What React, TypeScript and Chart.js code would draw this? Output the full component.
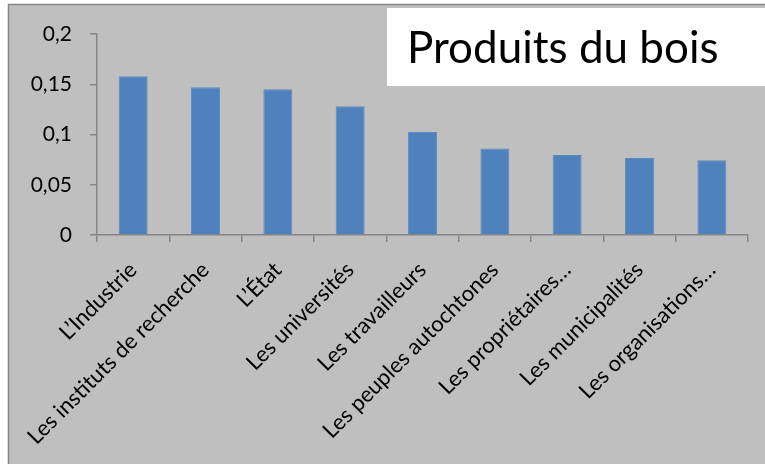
import { useEffect, useRef } from "react";
import { Chart, registerables } from "chart.js";

Chart.register(...registerables);

const categories = [
  "L’Industrie",
  "Les instituts de recherche",
  "L’État",
  "Les universités",
  "Les travailleurs",
  "Les peuples autochtones",
  "Les propriétaires…",
  "Les municipalités",
  "Les organisations…",
];
const values = [0.158, 0.147, 0.145, 0.128, 0.1025, 0.086, 0.0795, 0.0765, 0.0745];
const yTicks = [0, 0.05, 0.1, 0.15, 0.2];
const titleText = "Produits du bois";

const W = 765;
const H = 464;

const bgPlugin = {
  id: "bg",
  beforeDraw(chart: any) {
    const ctx = chart.ctx;
    ctx.save();
    ctx.fillStyle = "#ffffff";
    ctx.fillRect(0, 0, W, H);
    ctx.fillStyle = "#bfbfbf";
    ctx.fillRect(8, 4, W - 8, H - 4);
    ctx.strokeStyle = "#868686";
    ctx.lineWidth = 1.5;
    ctx.beginPath();
    ctx.moveTo(8.5, H);
    ctx.lineTo(8.5, 4.5);
    ctx.lineTo(W, 4.5);
    ctx.stroke();
    ctx.restore();
  },
  afterDraw(chart: any) {
    const ctx = chart.ctx;
    ctx.save();
    ctx.fillStyle = "#ffffff";
    ctx.fillRect(387, 8, W - 387, 78);
    ctx.fillStyle = "#000000";
    ctx.font = "44px Lato";
    ctx.textBaseline = "alphabetic";
    ctx.textAlign = "left";
    ctx.fillText(titleText, 407, 63);
    ctx.restore();
  },
};

export default function App() {
  const ref = useRef<HTMLCanvasElement>(null);
  useEffect(() => {
    if (!ref.current) return;
    const chart = new Chart(ref.current, {
      type: "bar",
      data: {
        labels: categories,
        datasets: [
          {
            data: values,
            backgroundColor: "#4f81bd",
            borderColor: "#5a8ac4",
            borderWidth: 1,
            barPercentage: 0.4,
            categoryPercentage: 1,
          },
        ],
      },
      options: {
        responsive: false,
        animation: false,
        layout: { padding: { left: 8, top: 34, right: 17, bottom: 0 } },
        plugins: { legend: { display: false }, tooltip: { enabled: false } },
        scales: {
          y: {
            min: 0,
            max: 0.2,
            afterBuildTicks: (scale: any) => {
              scale.ticks = yTicks.map((v) => ({ value: v }));
            },
            afterFit: (scale: any) => {
              scale.width = 89;
            },
            ticks: {
              color: "#000000",
              font: { family: "Lato", size: 21 },
              padding: 18,
              callback: (v: any) => String(v).replace(".", ","),
            },
            grid: {
              drawOnChartArea: false,
              drawTicks: true,
              tickLength: 7,
              color: "#868686",
              lineWidth: 1.5,
            },
            border: { display: true, color: "#868686", width: 1.5 },
          },
          x: {
            afterFit: (scale: any) => {
              scale.height = 229;
            },
            ticks: {
              color: "#000000",
              font: { family: "Lato", size: 22 },
              minRotation: 45,
              maxRotation: 45,
              autoSkip: false,
              padding: 15,
            },
            grid: {
              offset: true,
              drawOnChartArea: false,
              drawTicks: true,
              tickLength: 7,
              color: "#868686",
              lineWidth: 1.5,
            },
            border: { display: true, color: "#868686", width: 1.5 },
          },
        },
      },
      plugins: [bgPlugin],
    });
    return () => chart.destroy();
  }, []);
  return (
    <div style={{ position: "fixed", left: 0, top: 0, width: W, height: H }}>
      <canvas ref={ref} width={W} height={H} />
    </div>
  );
}
